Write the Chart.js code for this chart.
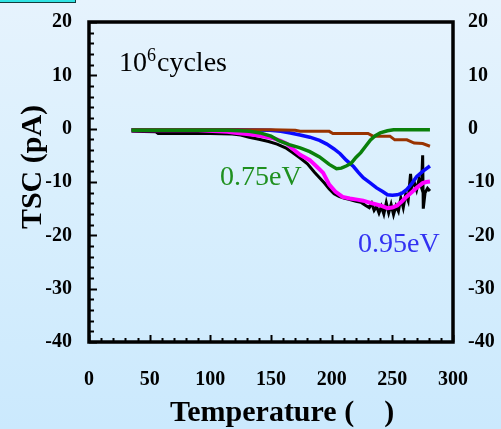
<!DOCTYPE html>
<html>
<head>
<meta charset="utf-8">
<script src="https://cdn.jsdelivr.net/npm/chart.js@4.4.1/dist/chart.umd.min.js"></script>
<style>
  html, body { margin: 0; padding: 0; }
  body {
    width: 501px; height: 429px; overflow: hidden; position: relative;
    background: linear-gradient(to bottom, #e6f3fd 0%, #d9effd 45%, #cbe9fd 100%);
  }
  #tab {
    position: absolute; left: -2px; top: -10px; width: 76px; height: 11px;
    background: #2fe3e3; border: 1px solid #123c3c;
  }
  canvas { position: absolute; left: 0; top: 0; }
</style>
</head>
<body>
<div id="tab"></div>
<canvas id="chart" width="501" height="429"></canvas>
<script>
// axis ticks
const xTickValues = [0, 50, 100, 150, 200, 250, 300];
const yTickValues = [-40, -30, -20, -10, 0, 10, 20];

// TSC curves, temperature (C) vs current (pA)
const greenT   = [35, 60, 90, 114, 124, 132, 141, 150, 157, 165, 174, 182, 190, 198, 204, 208, 212, 216, 220, 224, 228, 232, 236, 240, 246, 251, 260, 270, 281];
const greenTSC = [-0.3, -0.3, -0.3, -0.3, -0.4, -0.5, -0.8, -1.4, -2.3, -3.0, -3.6, -4.3, -5.3, -6.7, -7.5, -7.4, -7.0, -6.5, -5.4, -4.5, -3.3, -2.1, -1.3, -0.8, -0.4, -0.2, -0.2, -0.2, -0.2];

const brownT   = [35, 150, 170, 174, 198, 201, 230, 234, 248, 252, 262, 268, 275, 281];
const brownTSC = [-0.2, -0.2, -0.3, -0.5, -0.5, -0.9, -0.9, -1.4, -1.4, -2.1, -2.1, -2.7, -2.8, -3.3];

const blueT   = [35, 80, 122, 149, 158, 166, 174, 182, 190, 196, 202, 207, 212, 218, 222, 226, 232, 237, 242, 246, 250, 254, 258, 262, 266, 270, 275, 281];
const blueTSC = [-0.2, -0.2, -0.2, -0.3, -0.5, -0.8, -1.2, -1.6, -2.2, -2.9, -3.8, -4.7, -5.9, -7.1, -8.2, -9.2, -10.2, -11.1, -11.8, -12.4, -12.5, -12.4, -12.1, -11.4, -10.3, -9.0, -8.0, -7.0];

const magentaT   = [35, 90, 114, 122, 130, 140, 152, 158, 163, 168, 174, 182, 188, 193, 198, 203, 209, 215, 221, 226, 232, 240, 246, 250, 254, 258, 262, 266, 270, 275, 278, 281];
const magentaTSC = [-0.3, -0.3, -0.6, -0.8, -1.0, -1.3, -1.8, -2.3, -2.8, -3.8, -4.9, -5.9, -7.2, -8.3, -10.5, -11.8, -12.8, -13.1, -13.3, -13.5, -13.9, -14.4, -14.9, -14.8, -14.4, -13.6, -12.7, -11.9, -11.1, -10.2, -10.0, -9.9];

const blackT   = [35, 55, 57, 100, 118, 125, 132, 140, 148, 155, 162, 168, 174, 180, 186, 190, 194, 198, 202, 206, 210, 215, 220, 224, 228, 231, 233, 235, 237, 239, 241, 243, 245, 247, 249, 251, 253, 255, 257, 259, 261, 263, 265, 266, 268, 270, 272, 274, 275, 275.5, 277, 279, 281];
const blackTSC = [-0.5, -0.6, -0.9, -0.9, -1.0, -1.2, -1.6, -2.0, -2.4, -2.9, -3.6, -4.5, -5.5, -6.6, -8.2, -9.2, -10.2, -11.3, -12.2, -12.7, -13.0, -13.3, -13.6, -13.8, -14.4, -14.8, -14.0, -15.3, -14.6, -15.8, -14.6, -16.0, -13.9, -15.8, -14.2, -16.1, -14.5, -15.5, -13.0, -14.8, -12.3, -13.5, -8.5, -11.0, -10.0, -11.5, -9.5, -11.0, -5.0, -15.0, -12.0, -11.2, -11.7];

const pts = (t, v) => t.map((x, i) => ({x, y: v[i]}));

const serif = "'Liberation Serif', 'Times New Roman', serif";
const tickFont = {family: serif, size: 20, weight: 'bold'};

function line(data, color, width) {
  return {data, borderColor: color, borderWidth: width, pointRadius: 0, tension: 0, fill: false};
}

// y axes: fixed width and no extra padding for the end labels
const fitY = w => s => { s.width = w; s.paddingTop = 0; s.paddingBottom = 0; };

// frame, inward ticks, axis titles and text labels
const decor = {
  id: 'decor',
  afterDraw(chart) {
    const c = chart.ctx;
    const a = chart.chartArea;
    const xs = chart.scales.x, ys = chart.scales.y;
    c.save();
    c.strokeStyle = '#000';
    c.lineWidth = 2;
    for (let v = 0; v <= 300; v += 10) {
      const px = Math.round(xs.getPixelForValue(v)) + 0.5;
      c.beginPath();
      c.moveTo(px, a.bottom);
      c.lineTo(px, a.bottom - (v % 50 === 0 ? 7 : 4));
      c.stroke();
    }
    for (let v = -40; v <= 20; v += 2) {
      const py = Math.round(ys.getPixelForValue(v)) + 0.5;
      c.beginPath();
      c.moveTo(a.left, py);
      c.lineTo(a.left + (v % 10 === 0 ? 8 : 5), py);
      c.stroke();
    }
    c.lineWidth = 3.5;
    c.strokeRect(a.left, a.top, a.right - a.left, a.bottom - a.top);

    c.fillStyle = '#000';
    c.font = "bold 30px " + serif;
    c.textBaseline = 'alphabetic';
    c.textAlign = 'left';
    c.fillText('Temperature (    )', 170, 421);

    c.save();
    c.translate(41, 167);
    c.rotate(-Math.PI / 2);
    c.textAlign = 'center';
    c.fillText('TSC (pA)', 0, 0);
    c.restore();

    c.font = "28px " + serif;
    c.textAlign = 'left';
    c.fillText('10', 119, 71);
    c.font = "18px " + serif;
    c.fillText('6', 147, 61);
    c.font = "28px " + serif;
    c.fillText('cycles', 157, 71);

    c.fillStyle = '#1f901f';
    c.fillText('0.75eV', 220, 185);
    c.fillStyle = '#3232f2';
    c.fillText('0.95eV', 358, 252);
    c.restore();
  }
};

new Chart(document.getElementById('chart'), {
  type: 'line',
  data: {
    datasets: [
      line(pts(greenT, greenTSC), '#0a800a', 3.5),
      line(pts(brownT, brownTSC), '#993300', 3),
      line(pts(blueT, blueTSC), '#0a0aff', 3.5),
      line(pts(magentaT, magentaTSC), '#ff00ff', 4),
      line(pts(blackT, blackTSC), '#000000', 3)
    ]
  },
  options: {
    responsive: false,
    animation: false,
    events: [],
    layout: {padding: {top: 22, left: 0, right: 0, bottom: 0}},
    plugins: {legend: {display: false}, tooltip: {enabled: false}},
    scales: {
      x: {
        type: 'linear', min: 0, max: 300,
        afterBuildTicks: s => { s.ticks = xTickValues.map(value => ({value})); },
        afterFit: s => { s.height = 87; },
        ticks: {font: tickFont, color: '#000', padding: 26, maxRotation: 0, autoSkip: false},
        grid: {display: false, drawTicks: false},
        border: {display: false}
      },
      y: {
        position: 'left', min: -40, max: 20,
        afterBuildTicks: s => { s.ticks = yTickValues.map(value => ({value})); },
        afterFit: fitY(89),
        ticks: {font: tickFont, color: '#000', padding: 17, autoSkip: false},
        grid: {display: false, drawTicks: false},
        border: {display: false}
      },
      y2: {
        position: 'right', min: -40, max: 20,
        afterBuildTicks: s => { s.ticks = yTickValues.map(value => ({value})); },
        afterFit: fitY(48),
        ticks: {font: tickFont, color: '#000', padding: 15, autoSkip: false},
        grid: {display: false, drawTicks: false},
        border: {display: false}
      }
    }
  },
  plugins: [decor]
});
</script>
</body>
</html>
